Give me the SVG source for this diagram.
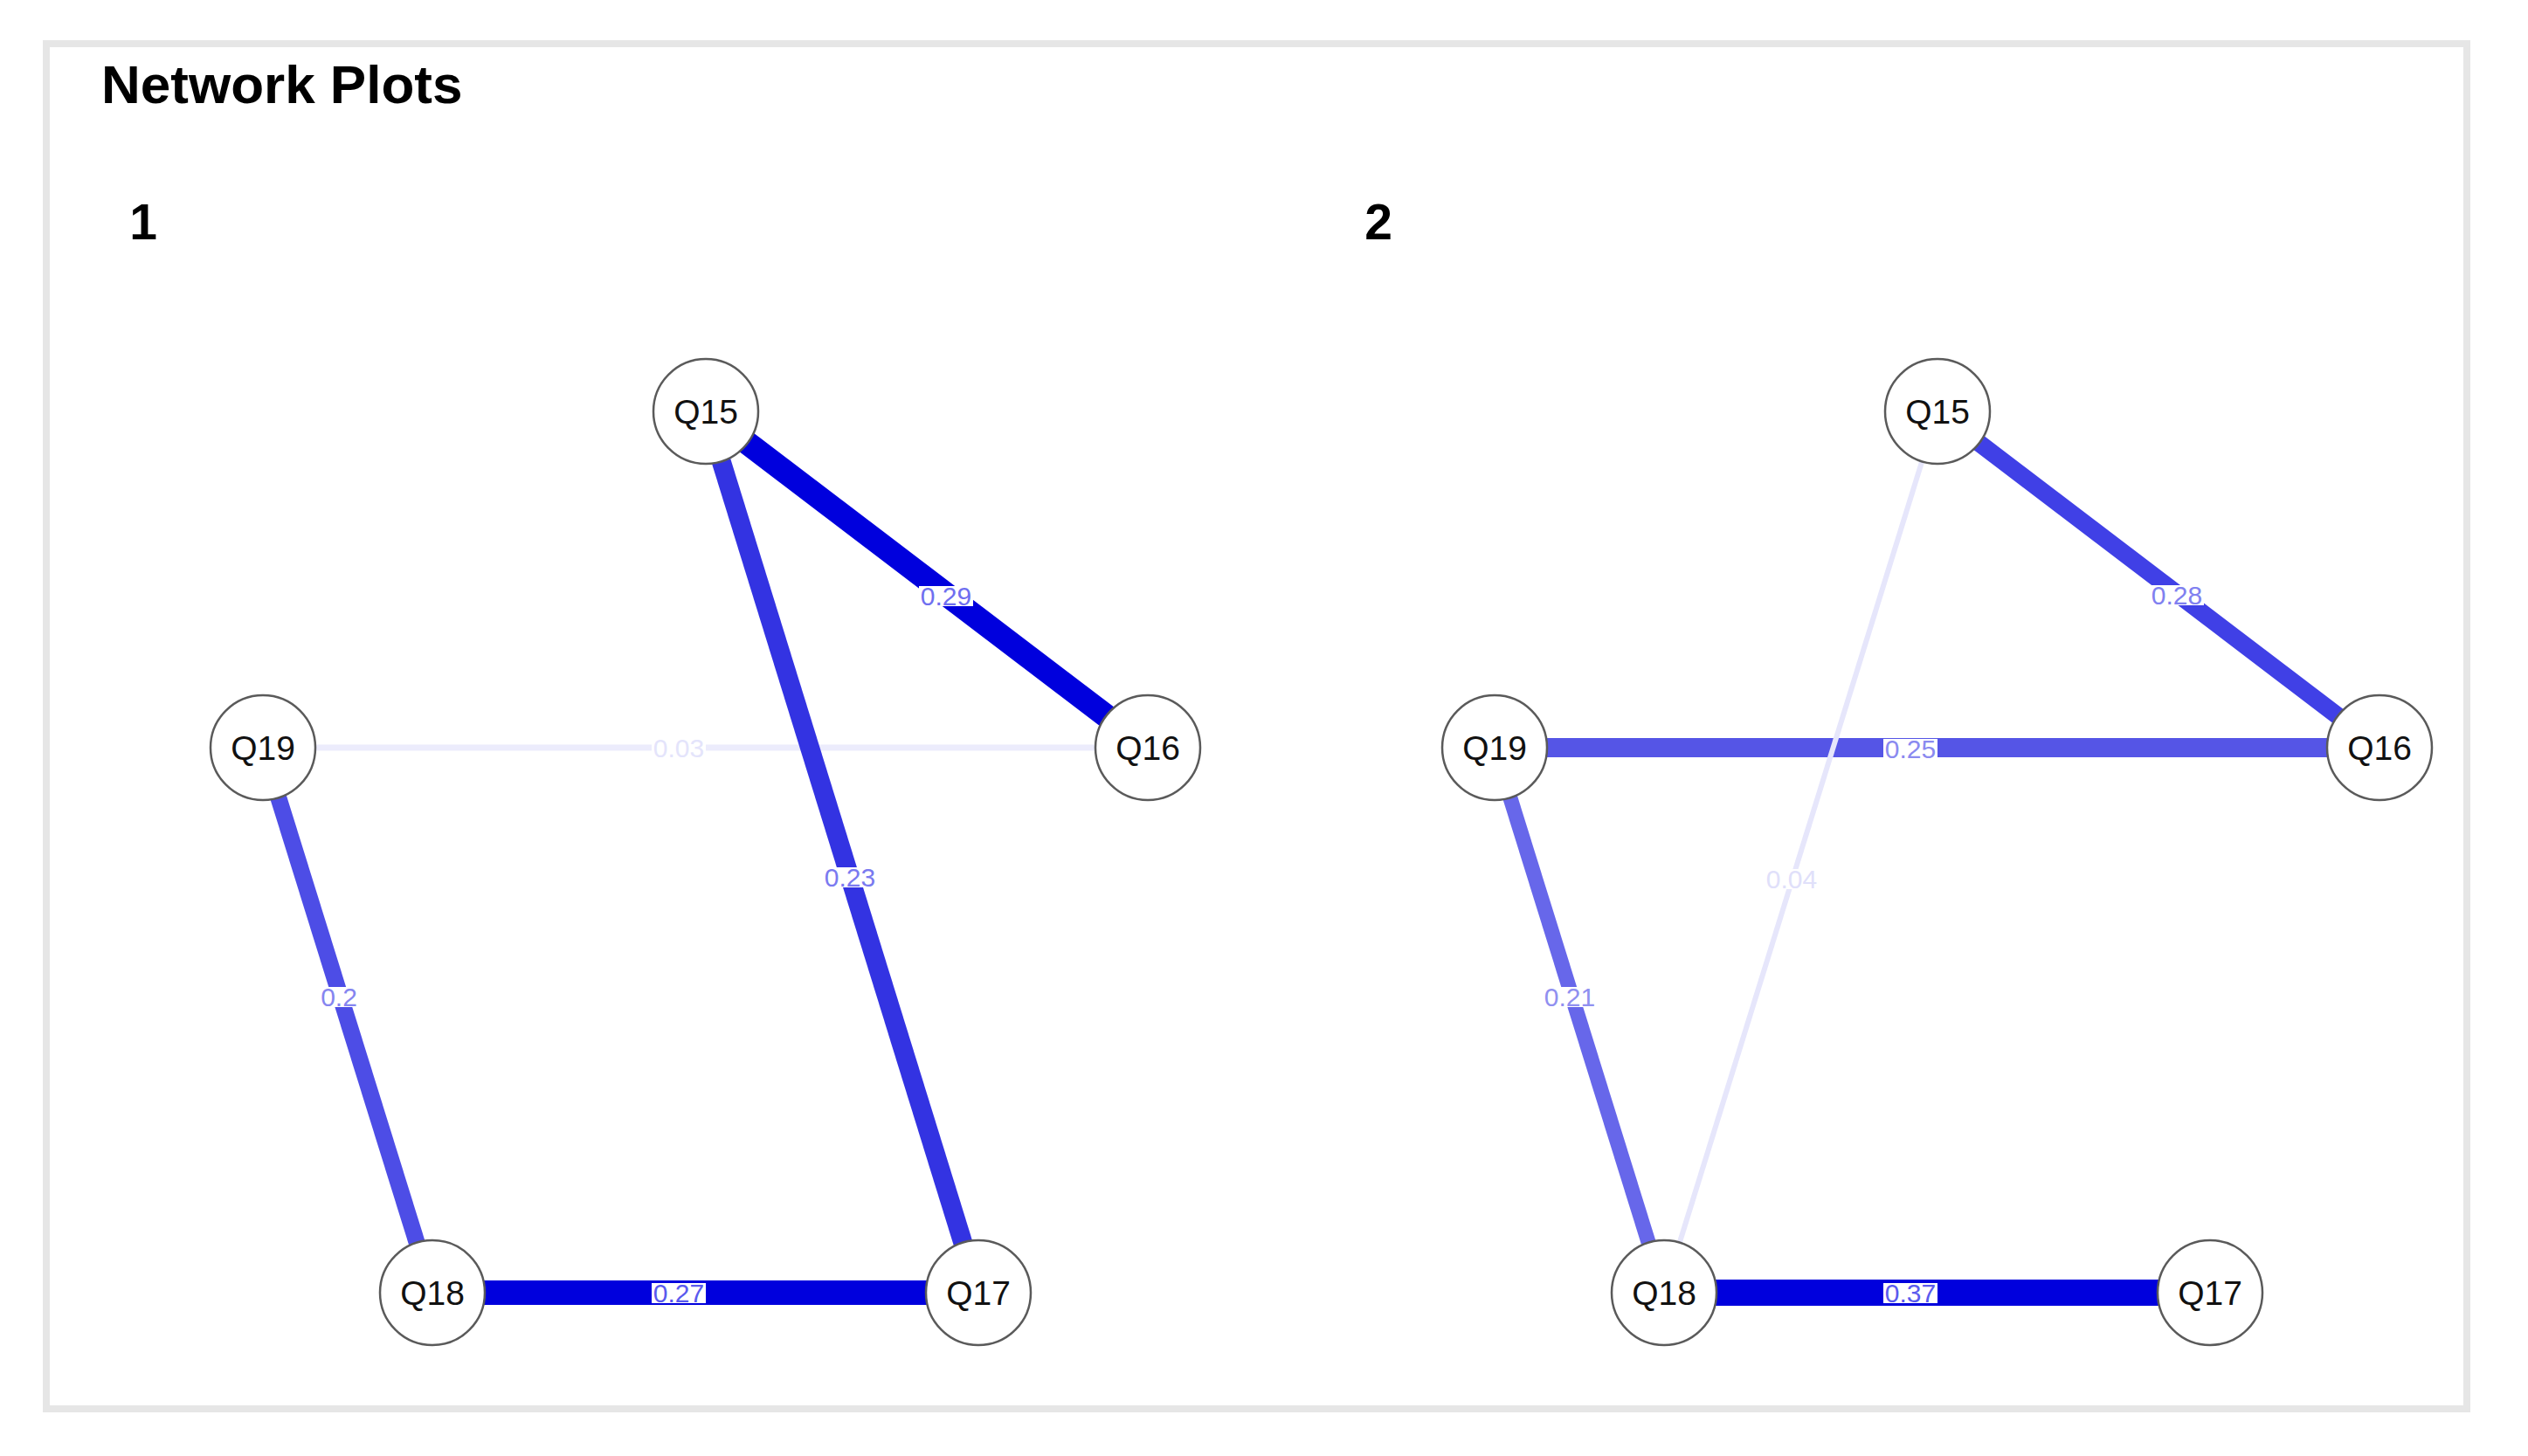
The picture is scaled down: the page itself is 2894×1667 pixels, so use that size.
<svg xmlns="http://www.w3.org/2000/svg" width="2894" height="1667" viewBox="0 0 2894 1667">
<style>
.frame{fill:#ffffff;stroke:#e6e6e6;stroke-width:8}
.title{font-family:"Liberation Sans",Arial,sans-serif;font-weight:bold;font-size:62px;fill:#000}
.num{font-family:"Liberation Sans",Arial,sans-serif;font-weight:bold;font-size:57px;fill:#000;text-anchor:middle}
.node circle{fill:#ffffff;stroke:#5a5a5a;stroke-width:2.5}
.node text{font-family:"Liberation Sans",Arial,sans-serif;font-size:39px;fill:#111;text-anchor:middle}
.edges line{stroke-linecap:butt}
.lbl rect{fill:#ffffff}
.lbl text{font-family:"Liberation Sans",Arial,sans-serif;font-size:30px;text-anchor:middle}
</style>
<rect class="frame" x="53" y="50" width="2771" height="1563"/>
<text class="title" x="116" y="118">Network Plots</text>
<text class="num" x="164" y="274">1</text>
<text class="num" x="1578" y="274">2</text>

<g id="connectors" class="edges">
  <!-- plot 1 -->
  <line x1="301" y1="856" x2="1314" y2="856" stroke="#ececfc" stroke-width="7"/>
  <line x1="301" y1="856" x2="495" y2="1480" stroke="#4d4de6" stroke-width="19"/>
  <line x1="808" y1="471" x2="1120" y2="1480" stroke="#3333e2" stroke-width="22"/>
  <line x1="808" y1="471" x2="1314" y2="856" stroke="#0000dd" stroke-width="27"/>
  <line x1="495" y1="1480" x2="1120" y2="1480" stroke="#0000dd" stroke-width="28"/>
  <!-- plot 2 -->
  <line x1="1711" y1="856" x2="2724" y2="856" stroke="#5555e6" stroke-width="22"/>
  <line x1="2218" y1="471" x2="1905" y2="1480" stroke="#e6e6fb" stroke-width="6"/>
  <line x1="1711" y1="856" x2="1905" y2="1480" stroke="#6767ea" stroke-width="17"/>
  <line x1="2218" y1="471" x2="2724" y2="856" stroke="#4040e6" stroke-width="20"/>
  <line x1="1905" y1="1480" x2="2530" y2="1480" stroke="#0000dd" stroke-width="30"/>

  <g class="lbl">
    <rect x="1052" y="671" width="62" height="23"/><text x="1083" y="693" fill="#6f6ff0">0.29</text>
    <rect x="942" y="993" width="62" height="23"/><text x="973" y="1015" fill="#7a7af0">0.23</text>
    <rect x="366" y="1130" width="44" height="23"/><text x="388" y="1152" fill="#8585f0">0.2</text>
    <rect x="746" y="845" width="62" height="23"/><text x="777" y="867" fill="#e4e4fb">0.03</text>
    <rect x="746" y="1469" width="62" height="23"/><text x="777" y="1491" fill="#5a5aee">0.27</text>

    <rect x="2461" y="670" width="62" height="23"/><text x="2492" y="692" fill="#8080f0">0.28</text>
    <rect x="2156" y="846" width="62" height="23"/><text x="2187" y="868" fill="#8a8af0">0.25</text>
    <rect x="2020" y="995" width="62" height="23"/><text x="2051" y="1017" fill="#e0e0fa">0.04</text>
    <rect x="1766" y="1130" width="62" height="23"/><text x="1797" y="1152" fill="#9090f0">0.21</text>
    <rect x="2156" y="1469" width="62" height="23"/><text x="2187" y="1491" fill="#5a5aee">0.37</text>
  </g>
</g>

<g id="p1-Q15" class="node"><circle cx="808" cy="471" r="60"/><text x="808" y="485">Q15</text></g>
<g id="p1-Q16" class="node"><circle cx="1314" cy="856" r="60"/><text x="1314" y="870">Q16</text></g>
<g id="p1-Q19" class="node"><circle cx="301" cy="856" r="60"/><text x="301" y="870">Q19</text></g>
<g id="p1-Q18" class="node"><circle cx="495" cy="1480" r="60"/><text x="495" y="1494">Q18</text></g>
<g id="p1-Q17" class="node"><circle cx="1120" cy="1480" r="60"/><text x="1120" y="1494">Q17</text></g>

<g id="p2-Q15" class="node"><circle cx="2218" cy="471" r="60"/><text x="2218" y="485">Q15</text></g>
<g id="p2-Q16" class="node"><circle cx="2724" cy="856" r="60"/><text x="2724" y="870">Q16</text></g>
<g id="p2-Q19" class="node"><circle cx="1711" cy="856" r="60"/><text x="1711" y="870">Q19</text></g>
<g id="p2-Q18" class="node"><circle cx="1905" cy="1480" r="60"/><text x="1905" y="1494">Q18</text></g>
<g id="p2-Q17" class="node"><circle cx="2530" cy="1480" r="60"/><text x="2530" y="1494">Q17</text></g>
</svg>
